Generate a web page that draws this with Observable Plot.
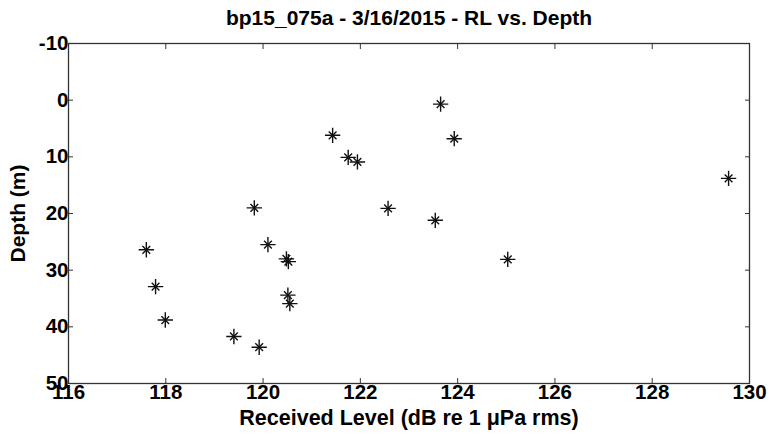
<!DOCTYPE html>
<html><head><meta charset="utf-8">
<script src="https://cdn.jsdelivr.net/npm/d3@7"></script>
<script src="https://cdn.jsdelivr.net/npm/@observablehq/plot@0.6"></script>
<style>body{margin:0;background:#fff}</style>
</head><body><div id="chart"></div>
<script>
const title = "bp15_075a - 3/16/2015 - RL vs. Depth";
const xLabel = "Received Level (dB re 1 \u03bcPa rms)";
const yLabel = "Depth (m)";
const receivedLevel = [123.65, 123.93, 121.43, 121.75, 121.94, 119.82, 122.57, 123.54, 129.57, 120.10, 117.60, 120.48, 120.52, 125.03, 117.79, 120.51, 120.55, 117.99, 119.40, 119.92];
const depth =         [0.7,    6.8,    6.2,    10.1,   10.9,   19.0,   19.1,   21.2,   13.8,   25.5,   26.4,   28.0,   28.5,   28.1,   32.9,   34.4,   35.9,   38.8,   41.7,   43.6];
const xTicks = [116, 118, 120, 122, 124, 126, 128, 130];
const yTicks = [-10, 0, 10, 20, 30, 40, 50];

const points = receivedLevel.map((x, i) => ({x, y: depth[i]}));
const font = "'Liberation Sans', Arial, sans-serif";
const axisColor = "#333";

const chart = Plot.plot({
  width: 770, height: 434,
  marginLeft: 68, marginRight: 21, marginTop: 43, marginBottom: 51,
  style: {fontFamily: font, fontWeight: "bold", fontSize: "20px", color: "#000", background: "#fff"},
  x: {domain: [116, 130]},
  y: {domain: [-10, 50], reverse: true},
  marks: [
    Plot.frame({stroke: axisColor, strokeWidth: 1.3}),
    Plot.axisX(xTicks, {anchor: "bottom", tickSize: -5, tickPadding: 6, label: null, tickFormat: d => String(d), fontSize: 20.5, stroke: axisColor}),
    Plot.axisX(xTicks, {anchor: "top", tickSize: -5, label: null, tickFormat: () => "", stroke: axisColor}),
    Plot.axisY(yTicks, {anchor: "left", tickSize: -5, tickPadding: 5, label: null, tickFormat: d => String(d), fontSize: 20.5, stroke: axisColor}),
    Plot.axisY(yTicks, {anchor: "right", tickSize: -5, label: null, tickFormat: () => "", stroke: axisColor}),
    Plot.dot(points, {x: "x", y: "y", symbol: "plus", r: 5, stroke: "#111", strokeWidth: 1.4}),
    Plot.dot(points, {x: "x", y: "y", symbol: "times", r: 3.6, stroke: "#111", strokeWidth: 1.4}),
    Plot.text([title], {frameAnchor: "top", dy: -25, textAnchor: "middle", lineAnchor: "middle", fontSize: 21, fontWeight: "bold"}),
    Plot.text([xLabel], {frameAnchor: "bottom", dy: 35, textAnchor: "middle", lineAnchor: "middle", fontSize: 21.5, fontWeight: "bold"}),
    Plot.text([yLabel], {frameAnchor: "left", dx: -50, rotate: -90, textAnchor: "middle", lineAnchor: "middle", fontSize: 21, fontWeight: "bold"})
  ]
});
document.getElementById("chart").appendChild(chart);
</script>
</body></html>
